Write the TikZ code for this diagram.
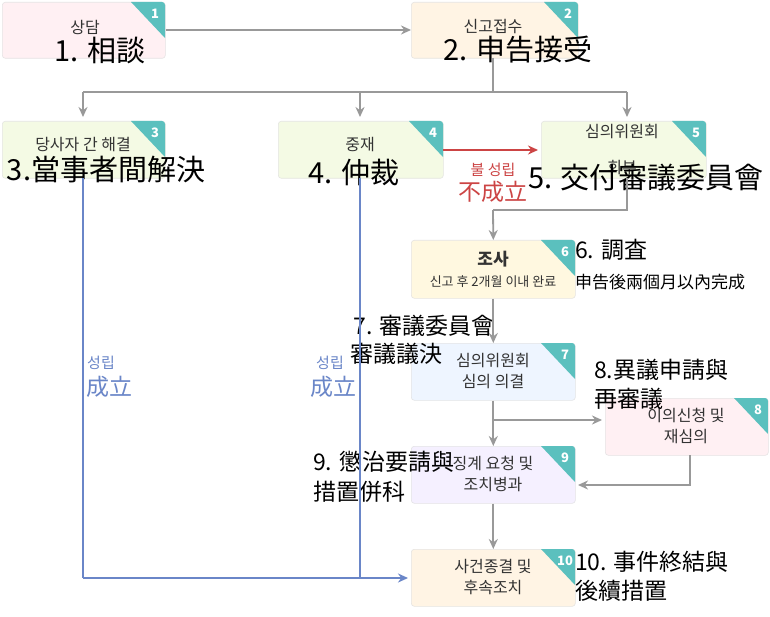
\documentclass[tikz,border=0pt]{standalone}
\usepackage{fontspec}
\setmainfont{Noto Sans CJK KR}
\usetikzlibrary{arrows.meta}
\definecolor{teal1}{HTML}{5BC0BE}
\definecolor{gline}{HTML}{999999}
\definecolor{bline}{HTML}{6A86C8}
\definecolor{rline}{HTML}{CC4444}
\tikzset{
 box/.style={draw=#1!60!black!25,fill=#1,rounded corners=3pt,line width=0.6pt},
 lab/.style={font=\fontsize{16}{21}\selectfont,text=black!80,align=center},
 big/.style={font=\fontsize{29}{33}\selectfont,text=black,inner sep=0pt},
 mid/.style={font=\fontsize{23}{27}\selectfont,text=black,inner sep=0pt,anchor=west},
 garr/.style={draw=gline,line width=1.8pt,-{Stealth[length=10pt,width=9pt]}},
 gln/.style={draw=gline,line width=1.8pt},
 barr/.style={draw=bline,line width=1.8pt,-{Stealth[length=10pt,width=9pt]}},
 bln/.style={draw=bline,line width=1.8pt},
}
\definecolor{c1}{HTML}{FFF0F3}
\definecolor{c2}{HTML}{FFF4E4}
\definecolor{c3}{HTML}{F4FAE4}
\definecolor{c6}{HTML}{FFF8E0}
\definecolor{c7}{HTML}{EEF5FF}
\definecolor{c9}{HTML}{F5F0FF}
\begin{document}
\begin{tikzpicture}[x=1pt,y=-1pt]
\useasboundingbox (0,0) rectangle (770,617);
\fill[white] (0,0) rectangle (770,617);
\def\mk#1#2#3#4#5#6{%
 \node[box=#6,minimum width=#4-#2,minimum height=#5-#3,anchor=north west,inner sep=0pt] (b#1) at (#2,#3) {};
 \begin{scope}
 \clip[rounded corners=3pt] (#2,#3) rectangle (#4,#5);
 \fill[teal1] (#4-34,#3) -- (#4,#3) -- (#4,#3+36) -- cycle;
 \end{scope}
 \node[text=white,font=\fontsize{13}{14}\selectfont\bfseries,inner sep=0pt] at (#4-10,#3+12) {#1};
}
\mk{1}{2}{2}{165}{58}{c1}
\mk{2}{411}{2}{578}{58}{c2}
\mk{3}{2}{121}{165}{178}{c3}
\mk{4}{278}{121}{443}{178}{c3}
\mk{5}{541}{121}{706}{178}{c3}
\mk{6}{411}{240}{575}{298}{c6}
\mk{7}{411}{343}{575}{400}{c7}
\mk{8}{605}{398}{768}{455}{c1}
\mk{9}{411}{446}{575}{503}{c9}
\mk{10}{411}{549}{575}{606}{c2}
\node[lab] (l1) at (85,27) {상담};
\node[lab] (l2) at (493,27) {신고접수};
\node[lab] (l3) at (83,145) {당사자 간 해결};
\node[lab] (l4) at (360,145) {중재};
\node[lab,font=\fontsize{16}{36}\selectfont] (l5) at (622,150) {심의위원회\\회부};
\node[lab] (l6) at (493,269) {\fontsize{17}{21}\selectfont\bfseries 조사\\\fontsize{13}{17}\selectfont 신고 후 2개월 이내 완료};
\node[lab] (l7) at (493,371) {심의위원회\\심의 의결};
\node[lab] (l8) at (686,426) {이의신청 및\\재심의};
\node[lab] (l9) at (493,474) {징계 요청 및\\조치병과};
\node[lab] (l10) at (493,577) {사건종결 및\\후속조치};
\node[big] (t1) at (100,50) {1. 相談};
\node[big] (t2) at (518,50) {2. 申告接受};
\node[big] (t3) at (106,170) {3.當事者間解決};
\node[big] (t4) at (354,172) {4. 仲裁};
\node[big] (t5) at (646,178) {5. 交付審議委員會};
\node[mid] (t6) at (575,250) {6. 調査};
\node[anchor=west,inner sep=0pt,font=\fontsize{17}{20}\selectfont] (t6b) at (575,282) {申告後兩個月以內完成};
\node[mid,anchor=east] (t7) at (495,326) {7. 審議委員會};
\node[mid] (t7b) at (350,354) {審議議決};
\node[mid] (t8) at (594,370) {8.異議申請與};
\node[mid] (t8b) at (594,399) {再審議};
\node[mid] (t9) at (313,462) {9. 懲治要請與};
\node[mid] (t9b) at (313,492) {措置併科};
\node[mid] (t10) at (575,562) {10. 事件終結與};
\node[mid] (t10b) at (575,591) {後續措置};
\draw[garr] (b1.east|-0,30) -- (b2.west|-0,30);
\coordinate (s2) at (493,92);
\draw[gln] (493,58) -- (s2);
\draw[gln] (83,92) -- (627,92);
\draw[garr] (83,92) -- (83,117);
\draw[garr] (360,92) -- (360,117);
\draw[garr] (627,92) -- (627,117);
\draw[gln] (627,178) -- (627,210) -- (493,210);
\draw[garr] (493,210) -- (b6.north);
\draw[garr] (b6.south) -- (b7.north);
\draw[garr] (b7.south) -- (b9.north);
\draw[garr] (493,420) -- (602,420);
\draw[garr] (690,455) -- (690,485) -- (578,485);
\draw[garr] (b9.south) -- (b10.north);
\draw[draw=rline,line width=1.8pt,-{Stealth[length=10pt,width=9pt]}] (443,150) -- (538,150);
\node[text=rline,font=\fontsize{15}{17}\selectfont] (r1) at (493,170) {불 성립};
\node[text=rline,font=\fontsize{23}{26}\selectfont,inner sep=0pt] (r2) at (493,192) {不成立};
\draw[bln] (83,178) -- (83,578);
\draw[bln] (360,178) -- (360,578);
\draw[barr] (83,578) -- (408,578);
\node[text=bline,font=\fontsize{15}{17}\selectfont] (g1) at (101,363) {성립};
\node[text=bline,font=\fontsize{23}{26}\selectfont,inner sep=0pt] (g2) at (109,387) {成立};
\node[text=bline,font=\fontsize{15}{17}\selectfont] (g3) at (330,363) {성립};
\node[text=bline,font=\fontsize{23}{26}\selectfont,inner sep=0pt] (g4) at (333,387) {成立};
\end{tikzpicture}
\end{document}
